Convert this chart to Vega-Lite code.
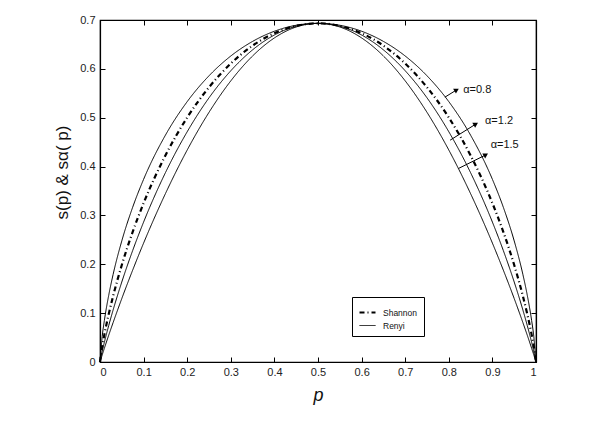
{
  "$schema": "https://vega.github.io/schema/vega-lite/v6.json",
  "width": 436,
  "height": 342,
  "autosize": {"type": "none"},
  "padding": {"left": 100, "top": 20, "right": 77, "bottom": 59},
  "background": "white",
  "config": {
    "font": "Liberation Sans",
    "view": {"stroke": "black", "strokeWidth": 1.2},
    "axis": {
      "grid": false,
      "domainColor": "black",
      "domainWidth": 1.2,
      "tickColor": "black",
      "tickSize": -5,
      "labelColor": "#222",
      "labelFont": "Liberation Sans",
      "labelFontSize": 11,
      "titleColor": "#111",
      "titleFont": "Liberation Sans",
      "titleFontWeight": "normal"
    }
  },
  "datasets": {
    "curves": [
      {"p": 0, "v": 0, "series": "Shannon", "type": "Shannon"},
      {"p": 0.005, "v": 0.0315, "series": "Shannon", "type": "Shannon"},
      {"p": 0.01, "v": 0.056, "series": "Shannon", "type": "Shannon"},
      {"p": 0.02, "v": 0.098, "series": "Shannon", "type": "Shannon"},
      {"p": 0.03, "v": 0.1347, "series": "Shannon", "type": "Shannon"},
      {"p": 0.05, "v": 0.1985, "series": "Shannon", "type": "Shannon"},
      {"p": 0.075, "v": 0.2664, "series": "Shannon", "type": "Shannon"},
      {"p": 0.1, "v": 0.3251, "series": "Shannon", "type": "Shannon"},
      {"p": 0.15, "v": 0.4227, "series": "Shannon", "type": "Shannon"},
      {"p": 0.2, "v": 0.5004, "series": "Shannon", "type": "Shannon"},
      {"p": 0.25, "v": 0.5623, "series": "Shannon", "type": "Shannon"},
      {"p": 0.3, "v": 0.6109, "series": "Shannon", "type": "Shannon"},
      {"p": 0.35, "v": 0.6475, "series": "Shannon", "type": "Shannon"},
      {"p": 0.4, "v": 0.673, "series": "Shannon", "type": "Shannon"},
      {"p": 0.45, "v": 0.6881, "series": "Shannon", "type": "Shannon"},
      {"p": 0.5, "v": 0.6931, "series": "Shannon", "type": "Shannon"},
      {"p": 0.55, "v": 0.6881, "series": "Shannon", "type": "Shannon"},
      {"p": 0.6, "v": 0.673, "series": "Shannon", "type": "Shannon"},
      {"p": 0.65, "v": 0.6475, "series": "Shannon", "type": "Shannon"},
      {"p": 0.7, "v": 0.6109, "series": "Shannon", "type": "Shannon"},
      {"p": 0.75, "v": 0.5623, "series": "Shannon", "type": "Shannon"},
      {"p": 0.8, "v": 0.5004, "series": "Shannon", "type": "Shannon"},
      {"p": 0.85, "v": 0.4227, "series": "Shannon", "type": "Shannon"},
      {"p": 0.9, "v": 0.3251, "series": "Shannon", "type": "Shannon"},
      {"p": 0.925, "v": 0.2664, "series": "Shannon", "type": "Shannon"},
      {"p": 0.95, "v": 0.1985, "series": "Shannon", "type": "Shannon"},
      {"p": 0.97, "v": 0.1347, "series": "Shannon", "type": "Shannon"},
      {"p": 0.98, "v": 0.098, "series": "Shannon", "type": "Shannon"},
      {"p": 0.99, "v": 0.056, "series": "Shannon", "type": "Shannon"},
      {"p": 0.995, "v": 0.0315, "series": "Shannon", "type": "Shannon"},
      {"p": 1, "v": 0, "series": "Shannon", "type": "Shannon"},

      {"p": 0, "v": 0, "series": "a08", "type": "Renyi"},
      {"p": 0.005, "v": 0.0519, "series": "a08", "type": "Renyi"},
      {"p": 0.01, "v": 0.0848, "series": "a08", "type": "Renyi"},
      {"p": 0.02, "v": 0.1366, "series": "a08", "type": "Renyi"},
      {"p": 0.03, "v": 0.1789, "series": "a08", "type": "Renyi"},
      {"p": 0.05, "v": 0.2479, "series": "a08", "type": "Renyi"},
      {"p": 0.075, "v": 0.3169, "series": "a08", "type": "Renyi"},
      {"p": 0.1, "v": 0.3739, "series": "a08", "type": "Renyi"},
      {"p": 0.15, "v": 0.4642, "series": "a08", "type": "Renyi"},
      {"p": 0.2, "v": 0.5329, "series": "a08", "type": "Renyi"},
      {"p": 0.25, "v": 0.5858, "series": "a08", "type": "Renyi"},
      {"p": 0.3, "v": 0.6263, "series": "a08", "type": "Renyi"},
      {"p": 0.35, "v": 0.6562, "series": "a08", "type": "Renyi"},
      {"p": 0.4, "v": 0.677, "series": "a08", "type": "Renyi"},
      {"p": 0.45, "v": 0.6892, "series": "a08", "type": "Renyi"},
      {"p": 0.5, "v": 0.6931, "series": "a08", "type": "Renyi"},
      {"p": 0.55, "v": 0.6892, "series": "a08", "type": "Renyi"},
      {"p": 0.6, "v": 0.677, "series": "a08", "type": "Renyi"},
      {"p": 0.65, "v": 0.6562, "series": "a08", "type": "Renyi"},
      {"p": 0.7, "v": 0.6263, "series": "a08", "type": "Renyi"},
      {"p": 0.75, "v": 0.5858, "series": "a08", "type": "Renyi"},
      {"p": 0.8, "v": 0.5329, "series": "a08", "type": "Renyi"},
      {"p": 0.85, "v": 0.4642, "series": "a08", "type": "Renyi"},
      {"p": 0.9, "v": 0.3739, "series": "a08", "type": "Renyi"},
      {"p": 0.925, "v": 0.3169, "series": "a08", "type": "Renyi"},
      {"p": 0.95, "v": 0.2479, "series": "a08", "type": "Renyi"},
      {"p": 0.97, "v": 0.1789, "series": "a08", "type": "Renyi"},
      {"p": 0.98, "v": 0.1366, "series": "a08", "type": "Renyi"},
      {"p": 0.99, "v": 0.0848, "series": "a08", "type": "Renyi"},
      {"p": 0.995, "v": 0.0519, "series": "a08", "type": "Renyi"},
      {"p": 1, "v": 0, "series": "a08", "type": "Renyi"},

      {"p": 0, "v": 0, "series": "a12", "type": "Renyi"},
      {"p": 0.005, "v": 0.0214, "series": "a12", "type": "Renyi"},
      {"p": 0.01, "v": 0.0402, "series": "a12", "type": "Renyi"},
      {"p": 0.02, "v": 0.0746, "series": "a12", "type": "Renyi"},
      {"p": 0.03, "v": 0.1062, "series": "a12", "type": "Renyi"},
      {"p": 0.05, "v": 0.1638, "series": "a12", "type": "Renyi"},
      {"p": 0.075, "v": 0.2283, "series": "a12", "type": "Renyi"},
      {"p": 0.1, "v": 0.2864, "series": "a12", "type": "Renyi"},
      {"p": 0.15, "v": 0.3874, "series": "a12", "type": "Renyi"},
      {"p": 0.2, "v": 0.4713, "series": "a12", "type": "Renyi"},
      {"p": 0.25, "v": 0.5407, "series": "a12", "type": "Renyi"},
      {"p": 0.3, "v": 0.5961, "series": "a12", "type": "Renyi"},
      {"p": 0.35, "v": 0.6389, "series": "a12", "type": "Renyi"},
      {"p": 0.4, "v": 0.6693, "series": "a12", "type": "Renyi"},
      {"p": 0.45, "v": 0.6872, "series": "a12", "type": "Renyi"},
      {"p": 0.5, "v": 0.6931, "series": "a12", "type": "Renyi"},
      {"p": 0.55, "v": 0.6872, "series": "a12", "type": "Renyi"},
      {"p": 0.6, "v": 0.6693, "series": "a12", "type": "Renyi"},
      {"p": 0.65, "v": 0.6389, "series": "a12", "type": "Renyi"},
      {"p": 0.7, "v": 0.5961, "series": "a12", "type": "Renyi"},
      {"p": 0.75, "v": 0.5407, "series": "a12", "type": "Renyi"},
      {"p": 0.8, "v": 0.4713, "series": "a12", "type": "Renyi"},
      {"p": 0.85, "v": 0.3874, "series": "a12", "type": "Renyi"},
      {"p": 0.9, "v": 0.2864, "series": "a12", "type": "Renyi"},
      {"p": 0.925, "v": 0.2283, "series": "a12", "type": "Renyi"},
      {"p": 0.95, "v": 0.1638, "series": "a12", "type": "Renyi"},
      {"p": 0.97, "v": 0.1062, "series": "a12", "type": "Renyi"},
      {"p": 0.98, "v": 0.0746, "series": "a12", "type": "Renyi"},
      {"p": 0.99, "v": 0.0402, "series": "a12", "type": "Renyi"},
      {"p": 0.995, "v": 0.0214, "series": "a12", "type": "Renyi"},
      {"p": 1, "v": 0, "series": "a12", "type": "Renyi"},

      {"p": 0, "v": 0, "series": "a15", "type": "Renyi"},
      {"p": 0.005, "v": 0.0143, "series": "a15", "type": "Renyi"},
      {"p": 0.01, "v": 0.0281, "series": "a15", "type": "Renyi"},
      {"p": 0.02, "v": 0.0548, "series": "a15", "type": "Renyi"},
      {"p": 0.03, "v": 0.0805, "series": "a15", "type": "Renyi"},
      {"p": 0.05, "v": 0.1299, "series": "a15", "type": "Renyi"},
      {"p": 0.075, "v": 0.1882, "series": "a15", "type": "Renyi"},
      {"p": 0.1, "v": 0.2434, "series": "a15", "type": "Renyi"},
      {"p": 0.15, "v": 0.3445, "series": "a15", "type": "Renyi"},
      {"p": 0.2, "v": 0.4339, "series": "a15", "type": "Renyi"},
      {"p": 0.25, "v": 0.511, "series": "a15", "type": "Renyi"},
      {"p": 0.3, "v": 0.5754, "series": "a15", "type": "Renyi"},
      {"p": 0.35, "v": 0.6264, "series": "a15", "type": "Renyi"},
      {"p": 0.4, "v": 0.6633, "series": "a15", "type": "Renyi"},
      {"p": 0.45, "v": 0.6857, "series": "a15", "type": "Renyi"},
      {"p": 0.5, "v": 0.6931, "series": "a15", "type": "Renyi"},
      {"p": 0.55, "v": 0.6857, "series": "a15", "type": "Renyi"},
      {"p": 0.6, "v": 0.6633, "series": "a15", "type": "Renyi"},
      {"p": 0.65, "v": 0.6264, "series": "a15", "type": "Renyi"},
      {"p": 0.7, "v": 0.5754, "series": "a15", "type": "Renyi"},
      {"p": 0.75, "v": 0.511, "series": "a15", "type": "Renyi"},
      {"p": 0.8, "v": 0.4339, "series": "a15", "type": "Renyi"},
      {"p": 0.85, "v": 0.3445, "series": "a15", "type": "Renyi"},
      {"p": 0.9, "v": 0.2434, "series": "a15", "type": "Renyi"},
      {"p": 0.925, "v": 0.1882, "series": "a15", "type": "Renyi"},
      {"p": 0.95, "v": 0.1299, "series": "a15", "type": "Renyi"},
      {"p": 0.97, "v": 0.0805, "series": "a15", "type": "Renyi"},
      {"p": 0.98, "v": 0.0548, "series": "a15", "type": "Renyi"},
      {"p": 0.99, "v": 0.0281, "series": "a15", "type": "Renyi"},
      {"p": 0.995, "v": 0.0143, "series": "a15", "type": "Renyi"},
      {"p": 1, "v": 0, "series": "a15", "type": "Renyi"}
    ],
    "notes": [
      {"label": "α=0.8", "p1": 0.791, "v1": 0.542, "p2": 0.818, "v2": 0.557, "tp": 0.833, "tv": 0.557},
      {"label": "α=1.2", "p1": 0.803, "v1": 0.454, "p2": 0.862, "v2": 0.487, "tp": 0.883, "tv": 0.493},
      {"label": "α=1.5", "p1": 0.822, "v1": 0.396, "p2": 0.885, "v2": 0.424, "tp": 0.896, "tv": 0.444}
    ]
  },
  "layer": [
    {
      "data": {"name": "curves"},
      "mark": {"type": "line", "color": "black", "interpolate": "monotone"},
      "encoding": {
        "x": {"field": "p", "type": "quantitative", "scale": {"domain": [0, 1], "nice": false},
          "axis": {"orient": "bottom", "values": [0, 0.1, 0.2, 0.3, 0.4, 0.5, 0.6, 0.7, 0.8, 0.9, 1], "format": "~g",
            "labelPadding": 9, "title": "p", "titleFontSize": 18, "titleFontStyle": "italic", "titlePadding": 9}},
        "y": {"field": "v", "type": "quantitative", "scale": {"domain": [0, 0.7], "nice": false},
          "axis": {"orient": "left", "values": [0, 0.1, 0.2, 0.3, 0.4, 0.5, 0.6, 0.7], "format": "~g",
            "labelPadding": 10,
            "title": "s(p) & sα( p)", "titleFontSize": 17, "titleX": -38, "titleY": 152, "titleAlign": "center", "titleBaseline": "middle", "titleAngle": -90}},
        "detail": {"field": "series"},
        "strokeDash": {"field": "type", "type": "nominal",
          "scale": {"domain": ["Shannon", "Renyi"], "range": [[5, 3, 1, 3], [1, 0]]},
          "legend": {"title": null,
            "orient": "none", "legendX": 252, "legendY": 277, "padding": 6,
            "strokeColor": "black", "fillColor": "white", "symbolType": "stroke", "symbolSize": 256,
            "symbolStrokeColor": "black", "symbolStrokeWidth": 1.3, "labelFontSize": 8.5, "labelColor": "#111",
            "labelOffset": 6, "rowPadding": 0, "symbolOffset": 0}},
        "strokeWidth": {"field": "type", "type": "nominal",
          "scale": {"domain": ["Shannon", "Renyi"], "range": [2.2, 1]}, "legend": null}
      }
    },
    {
      "data": {"name": "curves"},
      "mark": {"type": "point", "opacity": 0},
      "encoding": {
        "x": {"field": "p", "type": "quantitative", "scale": {"domain": [0, 1], "nice": false},
          "axis": {"orient": "top", "values": [0, 0.1, 0.2, 0.3, 0.4, 0.5, 0.6, 0.7, 0.8, 0.9, 1], "labels": false, "title": null}},
        "y": {"field": "v", "type": "quantitative", "scale": {"domain": [0, 0.7], "nice": false},
          "axis": {"orient": "right", "values": [0, 0.1, 0.2, 0.3, 0.4, 0.5, 0.6, 0.7], "labels": false, "title": null}}
      }
    },
    {
      "data": {"name": "notes"},
      "mark": {"type": "rule", "color": "black", "strokeWidth": 1},
      "encoding": {
        "x": {"field": "p1", "type": "quantitative", "scale": {"domain": [0, 1], "nice": false}, "axis": null},
        "y": {"field": "v1", "type": "quantitative", "scale": {"domain": [0, 0.7], "nice": false}, "axis": null},
        "x2": {"field": "p2"},
        "y2": {"field": "v2"}
      }
    },
    {
      "data": {"name": "notes"},
      "mark": {"type": "point", "shape": "triangle-right", "filled": true, "color": "black", "opacity": 1, "size": 32, "angle": 330},
      "encoding": {
        "x": {"field": "p2", "type": "quantitative", "scale": {"domain": [0, 1], "nice": false}, "axis": null},
        "y": {"field": "v2", "type": "quantitative", "scale": {"domain": [0, 0.7], "nice": false}, "axis": null}
      }
    },
    {
      "data": {"name": "notes"},
      "mark": {"type": "text", "align": "left", "baseline": "middle", "fontSize": 11, "color": "#111", "font": "Liberation Sans"},
      "encoding": {
        "x": {"field": "tp", "type": "quantitative", "scale": {"domain": [0, 1], "nice": false}, "axis": null},
        "y": {"field": "tv", "type": "quantitative", "scale": {"domain": [0, 0.7], "nice": false}, "axis": null},
        "text": {"field": "label"}
      }
    }
  ],
  "resolve": {"axis": {"x": "independent", "y": "independent"}}
}
